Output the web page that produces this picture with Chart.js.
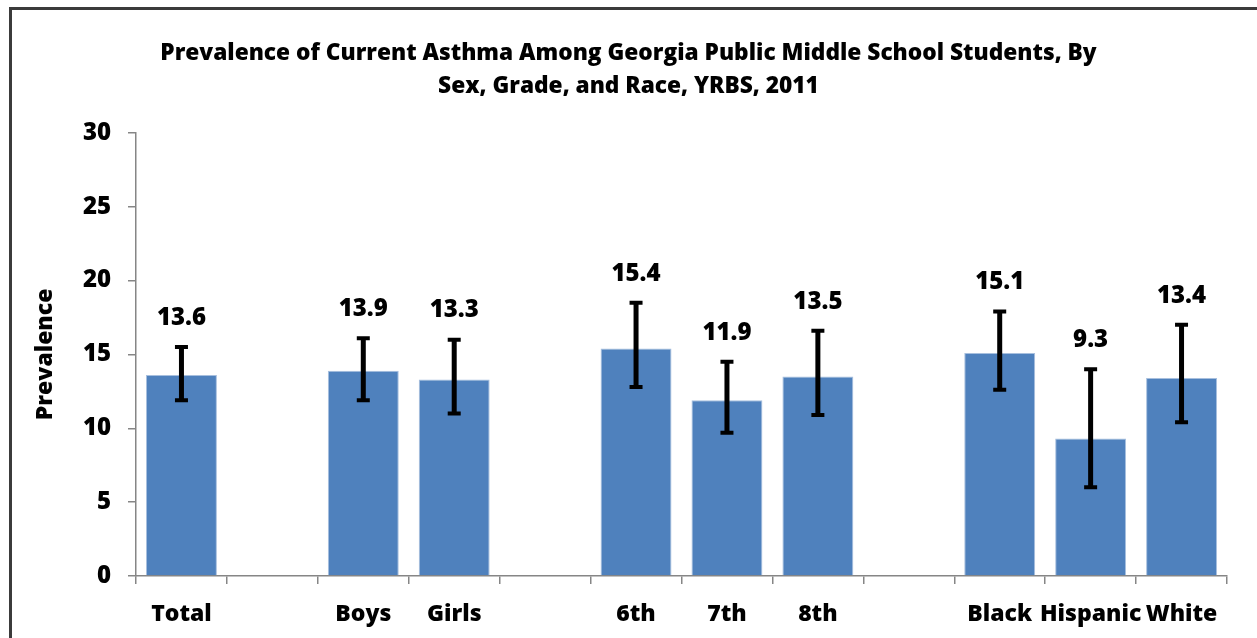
<!DOCTYPE html>
<html>
<head>
<meta charset="utf-8">
<script src="https://cdn.jsdelivr.net/npm/chart.js@4.4.1/dist/chart.umd.min.js"></script>
<style>
    html, body { margin: 0; padding: 0; background: #fff; overflow: hidden; }
    #wrap { position: relative; width: 1257px; height: 638px; }
    #frame { position: absolute; left: 9px; top: 7px; width: 1300px; height: 700px; border: 3px solid #3b3b3b; box-sizing: border-box; }
    canvas { position: absolute; left: 0; top: 0; }
</style>
</head>
<body>
<div id="wrap">
    <div id="frame"></div>
    <canvas id="asthmaChart" width="1257" height="638"></canvas>
</div>
<script>
// groups are separated by empty slots, like the original sheet
const categories = ['Total', '', 'Boys', 'Girls', '', '6th', '7th', '8th', '', 'Black', 'Hispanic', 'White'];
const prevalence = [13.6, null, 13.9, 13.3, null, 15.4, 11.9, 13.5, null, 15.1, 9.3, 13.4];
const lowerCI = [11.9, null, 11.9, 11.0, null, 12.8, 9.7, 10.9, null, 12.6, 6.0, 10.4];
const upperCI = [15.5, null, 16.1, 16.0, null, 18.5, 14.5, 16.6, null, 17.9, 14.0, 17.0];
const yTicks = [0, 5, 10, 15, 20, 25, 30];

const FONT = '"Open Sans"';
const WEIGHT = 800;

const errorBars = {
    id: 'errorBars',
    afterDatasetsDraw(chart) {
        const ctx = chart.ctx;
        const y = chart.scales.y;
        const meta = chart.getDatasetMeta(0);
        ctx.save();
        ctx.strokeStyle = '#000';
        ctx.fillStyle = '#000';
        meta.data.forEach((bar, i) => {
            if (prevalence[i] == null) return;
            const x = bar.x;
            const yLo = y.getPixelForValue(lowerCI[i]);
            const yHi = y.getPixelForValue(upperCI[i]);
            // stem
            ctx.lineWidth = 5;
            ctx.beginPath();
            ctx.moveTo(x, yLo);
            ctx.lineTo(x, yHi);
            ctx.stroke();
            // caps
            ctx.lineWidth = 4;
            ctx.beginPath();
            ctx.moveTo(x - 6.5, yLo);
            ctx.lineTo(x + 6.5, yLo);
            ctx.moveTo(x - 6.5, yHi);
            ctx.lineTo(x + 6.5, yHi);
            ctx.stroke();

            ctx.font = `${WEIGHT} 24px ${FONT}`;
            ctx.textAlign = 'center';
            ctx.textBaseline = 'middle';
            ctx.fillText(prevalence[i].toFixed(1), x, yHi - 29);
        });
        ctx.restore();
    }
};

const ctx = document.getElementById('asthmaChart').getContext('2d');
new Chart(ctx, {
    type: 'bar',
    data: {
        labels: categories,
        datasets: [{
            data: prevalence,
            backgroundColor: '#4f81bd',
            borderColor: '#a7bfde',
            borderWidth: 1,
            barPercentage: 0.78,
            categoryPercentage: 1.0
        }]
    },
    options: {
        responsive: false,
        animation: false,
        layout: { padding: { left: 30, right: 30, top: 0, bottom: 0 } },
        plugins: {
            legend: { display: false },
            tooltip: { enabled: false },
            title: {
                display: true,
                text: ['Prevalence of Current Asthma Among Georgia Public Middle School Students, By',
                       'Sex, Grade, and Race, YRBS, 2011'],
                color: '#000',
                font: { family: FONT, size: 22.7, weight: WEIGHT, lineHeight: 1.45 },
                padding: { top: 37, bottom: 30 }
            }
        },
        scales: {
            x: {
                grid: { drawOnChartArea: false, drawTicks: true, tickLength: 8, color: '#868686', lineWidth: 1.5 },
                border: { display: true, color: '#868686', width: 1.5 },
                ticks: { color: '#000', font: { family: FONT, size: 23, weight: WEIGHT }, padding: 17, autoSkip: false, maxRotation: 0 },
                afterFit(scale) { scale.height = 62; }
            },
            y: {
                min: 0,
                max: 30,
                afterBuildTicks(scale) { scale.ticks = yTicks.map(v => ({ value: v })); },
                grid: { drawOnChartArea: false, drawTicks: true, tickLength: 8, color: '#868686', lineWidth: 1.5 },
                border: { display: true, color: '#868686', width: 1.5 },
                ticks: { color: '#000', font: { family: FONT, size: 24, weight: WEIGHT }, padding: 17 },
                title: {
                    display: true,
                    text: 'Prevalence',
                    color: '#000',
                    font: { family: FONT, size: 23, weight: WEIGHT },
                    padding: { top: 2, bottom: 0 }
                },
                afterFit(scale) { scale.width = 106; }
            }
        }
    },
    plugins: [errorBars]
});
</script>
</body>
</html>
